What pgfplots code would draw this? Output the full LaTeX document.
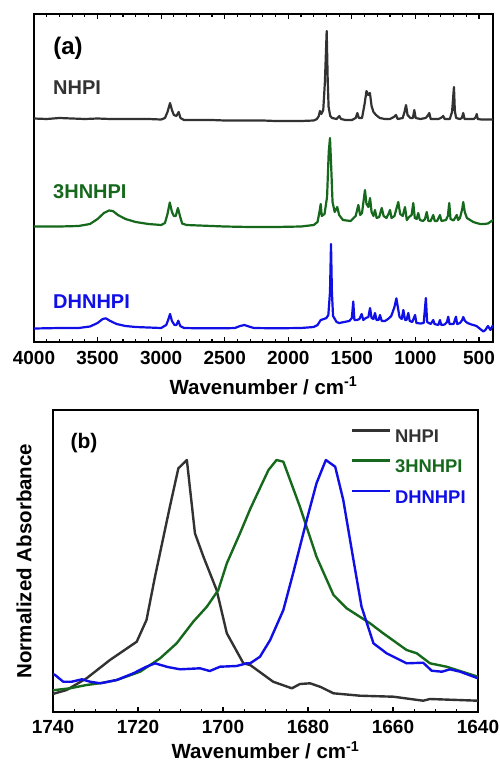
\documentclass[border=0pt]{standalone}
\usepackage{pgfplots}
\pgfplotsset{compat=1.18}
\usepackage{fontspec}
\setmainfont{Liberation Sans}
\definecolor{cgray}{RGB}{50,50,50}
\definecolor{cgreen}{RGB}{22,105,28}
\definecolor{cblue}{RGB}{15,15,230}
\begin{document}
\begin{tikzpicture}[x=1pt,y=1pt]
\useasboundingbox (0,0) rectangle (499,-764);
\pgfplotsset{
  myax/.style={
    scale only axis, anchor=south west,
    axis line style={line width=1.5pt, black},
    x dir=reverse, ymin=0, ytick=\empty,
    tick align=inside, major tick length=5pt, minor tick length=3pt,
    every tick/.style={black, line width=1.1pt},
    ticklabel style={font=\fontsize{19}{19}\selectfont\bfseries},
    /pgf/number format/assume math mode=true,
    /pgf/number format/set thousands separator={},
    xticklabel style={inner sep=0pt},
    label style={font=\fontsize{20.5}{20.5}\selectfont\bfseries},
    xlabel={Wavenumber / cm\textsuperscript{-1}},
  }
}
% ---------- panel (a)
\begin{axis}[myax, at={(34pt,-342pt)}, width=459pt, height=328pt,
  xmin=390, xmax=4000, ymax=328,
  xtick={500,1000,...,4000}, minor x tick num=4, xtick pos=both,
  xticklabel style={yshift=-9pt},
  xlabel style={at={(axis description cs:0.5,-0.134)}, anchor=center},
  every axis plot/.append style={line width=2.2pt, line join=round}]
\addplot[cgray] coordinates {
(4000,223.5) (3900,223) (3800,224) (3700,223.5) (3600,223) (3500,223.5) (3400,223) (3300,223) (3200,223) (3100,223) (3000,222.5) (2970,224) (2950,230) (2930,239) (2915,232) (2900,227) (2880,226) (2862,230) (2848,224) (2820,222) (2700,222) (2600,222) (2500,221.5) (2400,221.5) (2300,221.5) (2200,221.5) (2100,221) (2000,221) (1900,221) (1800,221.5) (1775,223) (1760,226) (1751,231) (1740,228) (1725,232) (1712,260) (1698,311) (1690,262) (1683,235) (1670,226) (1655,224) (1620,223) (1599,226) (1585,223) (1550,222) (1500,222) (1470,224) (1457,229) (1445,224) (1420,224) (1400,238) (1385,251) (1372,247) (1358,249) (1345,236) (1330,230) (1310,227) (1280,224) (1240,223) (1200,223) (1170,225) (1153,227) (1140,223) (1100,224) (1086,230) (1074,237) (1062,227) (1040,224) (1020,224) (1009,232) (998,224) (960,223) (920,224) (905,226) (891,229) (880,223) (850,223) (820,223) (800,224) (781,226) (770,223) (730,223) (712,230) (697,255) (690,231) (680,224) (650,223) (635,224) (624,229) (614,223) (580,223) (540,223) (525,225) (518,228) (510,223) (480,222.5) (390,222.5)};
\addplot[cgreen] coordinates {
(4000,115.5) (3800,115.5) (3650,116) (3560,118) (3500,123) (3450,129) (3410,131.5) (3380,131) (3340,127) (3280,123) (3200,120) (3100,118) (3000,117) (2970,119) (2950,128) (2932,139.5) (2915,130) (2900,126) (2885,126) (2868,134) (2852,126) (2835,118.5) (2800,117) (2700,116.5) (2500,115.5) (2300,115) (2100,115) (1900,115.5) (1800,117) (1770,120) (1755,130) (1745,138) (1737,126) (1715,128) (1695,145) (1682,190) (1672,204) (1664,180) (1652,140) (1635,130) (1615,135) (1600,127) (1570,122) (1510,121) (1470,126) (1449,137) (1435,127) (1420,129) (1397,152) (1385,138) (1370,135) (1357,144) (1345,130) (1330,126) (1318,132) (1305,124) (1285,125) (1265,134) (1250,126) (1228,124) (1212,128) (1200,132) (1188,124) (1165,126) (1150,133) (1135,140) (1120,128) (1100,126) (1082,135) (1068,122) (1050,125) (1030,127) (1017,139) (1005,124) (990,123) (978,129) (965,122) (940,121) (925,123) (911,130) (898,121) (880,121) (860,127) (848,121) (830,121) (807,127) (795,121) (760,122) (745,126) (734,139) (724,123) (700,121.5) (675,127) (664,122) (650,124) (632,133) (624,140) (612,130) (595,124) (570,122) (545,120) (520,119) (490,118) (460,118) (430,118.5) (400,121) (390,122)};
\addplot[cblue] coordinates {
(4000,13.5) (3800,14) (3650,14) (3560,15.5) (3500,19) (3460,23) (3435,23.7) (3400,21) (3350,18) (3280,16) (3200,15) (3000,14) (2960,17) (2945,22) (2930,28) (2915,21) (2895,17) (2880,17) (2865,21.3) (2850,16) (2820,14) (2700,13.7) (2500,13.7) (2420,14) (2380,16) (2345,17) (2310,15.5) (2270,14) (2100,13.7) (1900,14) (1800,15) (1770,17) (1745,22) (1720,23) (1700,24) (1685,27) (1672,50) (1664,98) (1657,50) (1648,26) (1620,20) (1600,19) (1560,20) (1520,21) (1500,24) (1489,40.5) (1480,22) (1460,22) (1440,23) (1423,28) (1410,22) (1390,24) (1370,25) (1357,34) (1345,24) (1330,23) (1318,29) (1306,22) (1290,22) (1279,27) (1265,21) (1240,21) (1215,23) (1190,26) (1165,35) (1150,43.7) (1140,36) (1125,25) (1108,23) (1095,32) (1082,22) (1070,22) (1056,29) (1045,21) (1025,20) (1003,27) (992,19) (960,18.5) (935,19) (918,44) (908,20) (880,18) (860,22) (850,18) (820,17) (807,22) (797,17) (770,17.5) (752,20) (742,25.3) (732,18) (700,18) (681,25.3) (672,18) (650,19) (632,22) (624,25) (610,21) (590,19) (560,17.5) (545,17) (520,16) (500,14) (480,12) (466,10.5) (450,12) (430,16) (410,12) (390,17)};
\node[font=\fontsize{24}{24}\selectfont\bfseries, inner sep=0pt] at (axis description cs:0.074,0.896) {(a)};
\node[font=\fontsize{20}{20}\selectfont\bfseries, inner sep=0pt, anchor=west, text=cgray] at (axis description cs:0.0414,0.776) {NHPI};
\node[font=\fontsize{20}{20}\selectfont\bfseries, inner sep=0pt, anchor=west, text=cgreen] at (axis description cs:0.0414,0.457) {3HNHPI};
\node[font=\fontsize{20}{20}\selectfont\bfseries, inner sep=0pt, anchor=west, text=cblue] at (axis description cs:0.0414,0.122) {DHNHPI};
\end{axis}
% ---------- panel (b)
\begin{axis}[myax, at={(53pt,-712pt)}, width=425pt, height=302pt,
  xmin=1640, xmax=1740, ymax=302,
  xtick={1640,1660,...,1740}, minor x tick num=3, xtick pos=left,
  xticklabel style={yshift=-8pt},
  xlabel style={at={(axis description cs:0.5,-0.127)}, anchor=center},
  ylabel={Normalized Absorbance},
  ylabel style={at={(axis description cs:-0.068,0.5)}, anchor=center},
  every axis plot/.append style={line width=2.4pt, line join=round},
  legend image code/.code={\draw[#1] (0pt,6.6pt) -- (38pt,6.6pt);},
  legend style={draw=none, fill=none, inner sep=0pt, at={(axis description cs:0.7,0.937)}, anchor=north west,
    font=\fontsize{18.4}{18.4}\selectfont\bfseries, row sep=15.3pt, column sep=4pt, nodes={inner sep=0pt}},
  legend cell align=left]
\addplot[cgray] coordinates {
(1740,18) (1739.5,18.7) (1736.8,22) (1732.1,33.7) (1726.6,52) (1720.3,70.3) (1718,92) (1716,135.3) (1712.5,205.3) (1710.5,243.7) (1708.5,252) (1706.6,178.7) (1704.6,155.3) (1701.5,122) (1699.1,78.7) (1695.2,48.7) (1693.6,47) (1688.2,30.3) (1683.8,23.7) (1681.9,28) (1679.5,28.7) (1677,25) (1674,18.7) (1667.8,16.3) (1659.9,15.3) (1652.9,11.3) (1651.3,13) (1640,11.3)};
\addplot[cgreen] coordinates {
(1740,21.5) (1739.5,22) (1736,23.7) (1732.1,27) (1728.2,29.3) (1725,32) (1719.5,40.3) (1714.8,53.7) (1710.9,68.7) (1707,90.3) (1703.8,105.3) (1701.1,122) (1699.1,148.7) (1696,178.7) (1693.6,203) (1691.7,220.3) (1689.3,242) (1687.4,252) (1685.8,250.3) (1681.9,205.3) (1678,155.3) (1674,117) (1670.9,103.7) (1665.4,88.7) (1662.3,78.7) (1656.8,62) (1654.4,58.7) (1651.3,48.7) (1647.4,45.3) (1640,35.3)};
\addplot[cblue] coordinates {
(1740,38) (1739.5,37) (1737.6,30.3) (1735.6,30.3) (1733.2,32.7) (1731.3,30.3) (1728.9,28.7) (1725,32) (1721.1,38.7) (1718,45.3) (1716,48.7) (1713,45) (1710.1,42.7) (1705.4,43.7) (1703.1,41) (1700.7,45.3) (1696.8,46) (1694.4,48.7) (1693.6,48.7) (1691.3,55.3) (1688.9,72) (1685.8,102) (1683.5,138.7) (1680.3,192) (1678,228.7) (1675.8,252) (1673.6,245.3) (1671.7,212) (1669.3,152) (1667.4,105.3) (1664.6,68.7) (1661.5,58.7) (1656.8,48.7) (1652.9,49.3) (1650.9,41.3) (1648.5,40.3) (1646.6,42.7) (1644.2,40.3) (1640,33.7)};
\legend{\textcolor{cgray}{NHPI},\textcolor{cgreen}{3HNHPI},\textcolor{cblue}{DHNHPI}}
\node[font=\fontsize{21}{21}\selectfont\bfseries, inner sep=0pt] at (axis description cs:0.073,0.891) {(b)};
\end{axis}
\end{tikzpicture}
\end{document}
